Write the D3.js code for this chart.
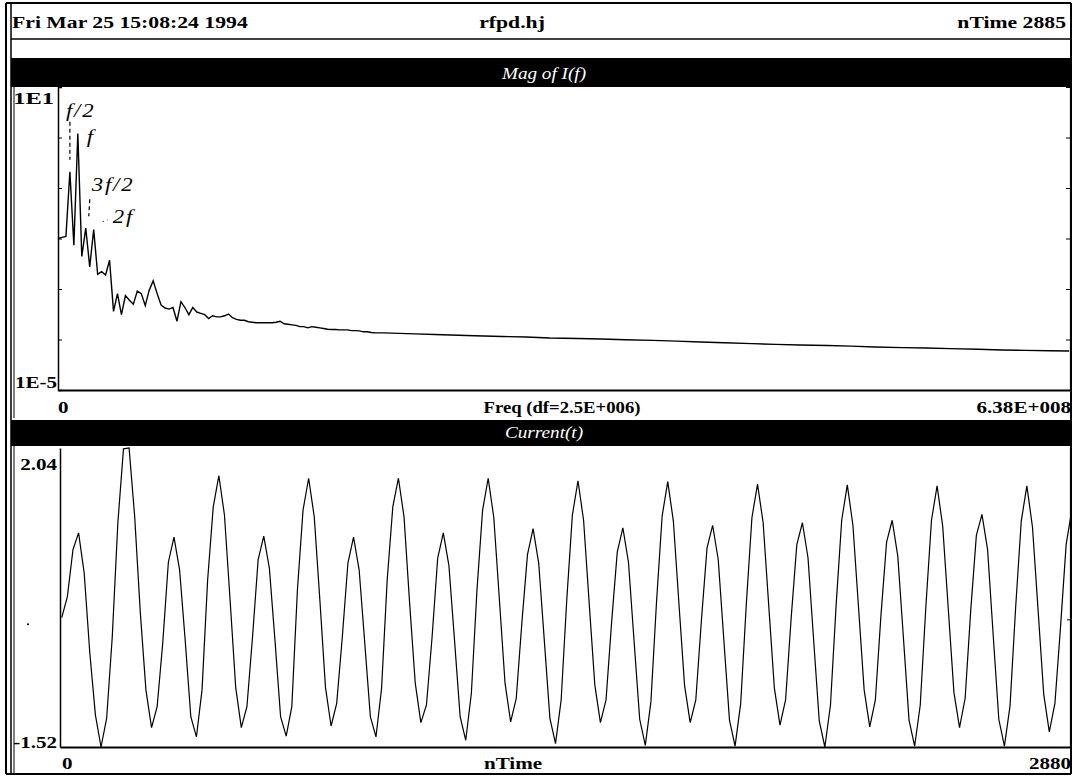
<!DOCTYPE html>
<html>
<head>
<meta charset="utf-8">
<script src="https://cdn.jsdelivr.net/npm/d3@7"></script>
<style>
  html, body { margin: 0; padding: 0; background: #fff; }
  svg { display: block; }
  text { font-family: "Liberation Serif", "Times New Roman", serif; }
</style>
</head>
<body>
<svg id="chart" width="1073" height="780"></svg>
<script>
// ---- header strings ----
const headerLeft = "Fri Mar 25 15:08:24 1994";
const headerMid = "rfpd.hj";
const headerRight = "nTime 2885";

// ---- spectrum |I(f)| ----
const specTitle = "Mag of I(f)";
const specXLabel = "Freq (df=2.5E+006)";
const specXTickLabels = ["0", "6.38E+008"];
const specYTickLabels = ["1E1", "1E-5"];
const df = 2.5e6;
const freqMax = 6.38e8;
const magDomain = [1e-5, 1e1];
const magTicks = [1e1, 1e0, 1e-1, 1e-2, 1e-3, 1e-4, 1e-5];
const specBins = d3.range(0, 83).concat([86, 90, 95, 99, 105, 112, 118, 124, 131, 137, 143, 150, 156, 162,
  168, 175, 181, 187, 194, 200, 206, 213, 219, 225, 232, 238, 244, 250, 255]);
const specMag = [
  1.0e-2, 1.05e-2, 1.1e-2, 2.1e-1, 7.4e-3, 1.2, 4.4e-3, 1.6e-2, 2.75e-3, 1.5e-2,
  1.95e-3, 2.2e-3, 1.9e-3, 3.7e-3, 3.6e-4, 8.1e-4, 3.1e-4, 7.4e-4, 6.0e-4, 5.0e-4,
  9.1e-4, 8.1e-4, 4.7e-4, 9.5e-4, 1.45e-3, 8.1e-4, 4.8e-4, 4.2e-4, 4.0e-4, 4.3e-4,
  2.3e-4, 5.6e-4, 4.3e-4, 3.1e-4, 4.3e-4, 3.5e-4, 3.3e-4, 3.1e-4, 2.6e-4, 2.95e-4,
  2.8e-4, 2.8e-4, 2.95e-4, 3.2e-4, 2.7e-4, 2.5e-4, 2.4e-4, 2.4e-4, 2.25e-4, 2.2e-4,
  2.15e-4, 2.15e-4, 2.15e-4, 2.15e-4, 2.15e-4, 2.2e-4, 2.3e-4, 2.05e-4, 2.0e-4, 1.95e-4,
  1.9e-4, 1.8e-4, 1.8e-4, 1.7e-4, 1.8e-4, 1.75e-4, 1.7e-4, 1.65e-4, 1.6e-4, 1.58e-4,
  1.58e-4, 1.55e-4, 1.55e-4, 1.55e-4, 1.5e-4, 1.5e-4, 1.48e-4, 1.42e-4, 1.42e-4, 1.38e-4,
  1.35e-4, 1.35e-4, 1.35e-4,
  1.32e-4, 1.29e-4, 1.26e-4, 1.23e-4, 1.19e-4, 1.15e-4, 1.12e-4, 1.07e-4, 1.05e-4, 1.02e-4,
  9.9e-5, 9.6e-5, 9.3e-5, 8.9e-5, 8.6e-5, 8.3e-5, 8.0e-5, 7.8e-5, 7.6e-5, 7.4e-5,
  7.1e-5, 6.9e-5, 6.8e-5, 6.6e-5, 6.4e-5, 6.2e-5, 6.1e-5, 6.0e-5, 5.9e-5
];
// harmonic annotations (name, bin of the marked peak)
const harmonicNames = ["f/2", "f", "3f/2", "2f"];
const harmonicBins = [3, 5, 7, 9];

// ---- current waveform ----
const curTitle = "Current(t)";
const curXLabel = "nTime";
const curXTickLabels = ["0", "2880"];
const curYTickLabels = ["2.04", "-1.52"];
const t0 = 5;      // first stored time step
const dt = 16;     // output interval
const tMax = 2880;
const curDomain = [-1.52, 2.04];
const current = [
  0.02, 0.27, 0.83, 1.03, 0.55, -0.40, -1.14, -1.52, -1.18, -0.21,
  1.15, 2.03, 2.04, 1.22, 0.08, -0.84, -1.29, -1.04, -0.28, 0.68,
  0.98, 0.59, -0.25, -1.16, -1.40, -0.84, 0.47, 1.34, 1.71, 1.24,
  0.23, -0.81, -1.29, -1.04, -0.21, 0.71, 0.99, 0.61, -0.25, -1.16,
  -1.39, -1.04, 0.35, 1.30, 1.68, 1.22, 0.23, -0.81, -1.27, -1.00,
  -0.21, 0.67, 0.98, 0.59, -0.28, -1.16, -1.40, -0.82, 0.47, 1.34,
  1.68, 1.22, 0.19, -0.76, -1.23, -1.02, -0.21, 0.73, 1.03, 0.64,
  -0.25, -1.16, -1.44, -0.88, 0.35, 1.30, 1.68, 1.21, 0.23, -0.76,
  -1.22, -0.94, -0.04, 0.77, 1.08, 0.67, -0.25, -1.18, -1.48, -0.96,
  0.23, 1.24, 1.65, 1.18, 0.19, -0.78, -1.23, -0.96, -0.03, 0.80,
  1.09, 0.68, -0.26, -1.19, -1.50, -0.98, 0.21, 1.23, 1.64, 1.17,
  0.18, -0.79, -1.23, -0.96, -0.01, 0.85, 1.12, 0.71, -0.25, -1.20,
  -1.51, -1.00, 0.18, 1.21, 1.61, 1.15, 0.16, -0.82, -1.26, -0.96,
  0.02, 0.89, 1.15, 0.73, -0.25, -1.21, -1.52, -1.02, 0.16, 1.18,
  1.60, 1.12, 0.14, -0.84, -1.28, -0.96, 0.05, 0.92, 1.18, 0.75,
  -0.22, -1.20, -1.51, -1.02, 0.15, 1.18, 1.59, 1.11, 0.12, -0.87,
  -1.29, -0.94, 0.11, 1.00, 1.25, 0.83, -0.19, -1.19, -1.51, -1.03,
  0.14, 1.17, 1.59, 1.10, 0.11, -0.89, -1.34, -1.00, -0.09, 0.89,
  1.30
];

// ---------------------------------------------------------------
const svg = d3.select("#chart");
const W = 1073, H = 780;
svg.append("rect").attr("width", W).attr("height", H).attr("fill", "#fff");

const TEXT_SX = 1.24; // wide, stretched lettering of the plotter output

function label(g, str, x, y, anchor, o = {}) {
  const t = g.append("text")
    .attr("transform", `translate(${x},${y}) scale(${o.sx || TEXT_SX},1)`)
    .attr("text-anchor", anchor)
    .attr("font-size", o.size || 17)
    .attr("font-weight", o.weight || "bold")
    .attr("font-style", o.style || "normal")
    .attr("fill", o.fill || "#000")
    .text(str);
  if (o.ls) t.attr("letter-spacing", o.ls);
  return t;
}

function hline(x1, x2, y, w) {
  svg.append("line").attr("x1", x1).attr("x2", x2).attr("y1", y).attr("y2", y)
    .attr("stroke", "#000").attr("stroke-width", w);
}
function vline(x, y1, y2, w) {
  svg.append("line").attr("x1", x).attr("x2", x).attr("y1", y1).attr("y2", y2)
    .attr("stroke", "#000").attr("stroke-width", w);
}

// ---- page frame ----
const FL = 6, FR = 1071, FT = 3, FB = 774;
hline(FL, FR, FT, 2);
hline(FL, FR, FB, 2);
vline(FL, FT, FB, 2);
vline(11, FT, FB, 1.5);
vline(FR, FT, FB, 2);
hline(11, FR, 39, 1.5);

// header
label(svg, headerLeft, 12, 28, "start", { size: 17.5 });
label(svg, headerMid, 512, 28, "middle", { size: 17.5 });
label(svg, headerRight, 1066, 28, "end", { size: 17.5 });

// ---- panel layout ----
const pTop = { bar: [58, 87], x0: 58, x1: 1070, y0: 87, y1: 390, lab: 413 };
const pBot = { bar: [420, 446], x0: 60, x1: 1070, y0: 446, y1: 747, lab: 769 };

function panelChrome(p, title) {
  svg.append("rect").attr("x", 11).attr("y", p.bar[0])
    .attr("width", FR - 11).attr("height", p.bar[1] - p.bar[0]).attr("fill", "#000");
  label(svg, title, 544, p.bar[1] - 8, "middle",
    { size: 16, weight: "normal", style: "italic", fill: "#fff", sx: 1.2 });
  vline(14, p.bar[1], p.y1 + 28, 1);
}
panelChrome(pTop, specTitle);
panelChrome(pBot, curTitle);

// ---- spectrum panel ----
const xF = d3.scaleLinear().domain([0, freqMax]).range([pTop.x0, pTop.x1]);
const yM = d3.scaleLog().domain(magDomain).range([pTop.y1, pTop.y0]);

const gTop = svg.append("g");
gTop.append("g").attr("transform", `translate(${pTop.x0},0)`)
  .call(d3.axisLeft(yM).tickValues(magTicks).tickSize(-4).tickFormat(""))
  .call(g => g.select(".domain").attr("stroke-width", 1.5));
gTop.append("g").attr("transform", `translate(${pTop.x1},0)`)
  .call(d3.axisRight(yM).tickValues(magTicks).tickSize(-4).tickFormat(""))
  .call(g => g.select(".domain").attr("stroke-width", 1.2));
gTop.append("g").attr("transform", `translate(0,${pTop.y1})`)
  .call(d3.axisBottom(xF).tickValues([]).tickSizeOuter(0))
  .call(g => g.select(".domain").attr("stroke-width", 2));

const specPts = specBins.map((b, i) => [b * df, specMag[i]]);
gTop.append("path").datum(specPts)
  .attr("fill", "none").attr("stroke", "#000").attr("stroke-width", 1.4)
  .attr("stroke-linejoin", "miter")
  .attr("d", d3.line().x(d => xF(d[0])).y(d => yM(d[1])));

label(gTop, specYTickLabels[0], pTop.x0 - 4, yM(magDomain[1]) + 17, "end", { sx: 1.4, size: 17.5 });
label(gTop, specYTickLabels[1], pTop.x0 - 1, yM(magDomain[0]) - 2, "end");
label(gTop, specXTickLabels[0], xF(0), pTop.lab, "start");
label(gTop, specXTickLabels[1], xF(freqMax) + 1, pTop.lab, "end");
label(gTop, specXLabel, 562, pTop.lab, "middle", { sx: 1.1 });

// harmonic markers: label offsets and dashed leaders relative to each peak
const annLayout = {
  "f/2":  { dx: -4, dy: -55, lead: [0, -50, 0, -12], dash: "4,3" },
  "f":    { dx: 9,  dy: 9,   lead: null },
  "3f/2": { dx: 6,  dy: -37, lead: [4, -29, 3, -12], dash: "4,3" },
  "2f":   { dx: 19, dy: -7,  lead: [9, -8, 14, -10], dash: "1,4" }
};
harmonicNames.forEach((name, i) => {
  const b = harmonicBins[i];
  const px = xF(b * df), py = yM(specMag[specBins.indexOf(b)]);
  const L = annLayout[name];
  if (L.lead) {
    gTop.append("line")
      .attr("x1", px + L.lead[0]).attr("y1", py + L.lead[1])
      .attr("x2", px + L.lead[2]).attr("y2", py + L.lead[3])
      .attr("stroke", "#000").attr("stroke-width", 1.2)
      .attr("stroke-dasharray", L.dash);
  }
  label(gTop, name, px + L.dx, py + L.dy, "start",
    { size: 19, weight: "normal", style: "italic", sx: 1.2, ls: 1.5 });
});

// ---- current panel ----
const xT = d3.scaleLinear().domain([0, tMax]).range([pBot.x0, pBot.x1]);
const yC = d3.scaleLinear().domain(curDomain).range([pBot.y1, pBot.y0 + 2]);

svg.append("clipPath").attr("id", "curClip")
  .append("rect").attr("x", pBot.x0).attr("y", pBot.y0)
  .attr("width", pBot.x1 - pBot.x0).attr("height", pBot.y1 - pBot.y0 + 2);

const gBot = svg.append("g");
gBot.append("g").attr("transform", `translate(${pBot.x0},0)`)
  .call(d3.axisLeft(yC).tickValues([]).tickSizeOuter(0))
  .call(g => g.select(".domain").attr("stroke-width", 1.5));
gBot.append("g").attr("transform", `translate(${pBot.x1},0)`)
  .call(d3.axisRight(yC).tickValues([0]).tickSize(-3).tickSizeOuter(0).tickFormat(""))
  .call(g => g.select(".domain").attr("stroke-width", 1.2));
gBot.append("g").attr("transform", `translate(0,${pBot.y1})`)
  .call(d3.axisBottom(xT).tickValues([]).tickSizeOuter(0))
  .call(g => g.select(".domain").attr("stroke-width", 2));
gBot.append("circle").attr("cx", 28).attr("cy", yC(0) + 5).attr("r", 1).attr("fill", "#000");

gBot.append("path").datum(current)
  .attr("clip-path", "url(#curClip)")
  .attr("fill", "none").attr("stroke", "#000").attr("stroke-width", 1.2)
  .attr("d", d3.line().x((d, i) => xT(t0 + i * dt)).y(d => yC(d)));

label(gBot, curYTickLabels[0], pBot.x0 - 3, yC(curDomain[1]) + 22, "end");
label(gBot, curYTickLabels[1], pBot.x0 - 3, yC(curDomain[0]) + 1, "end");
label(gBot, curXTickLabels[0], xT(0) + 2, pBot.lab, "start");
label(gBot, curXTickLabels[1], xT(tMax) + 1, pBot.lab, "end");
label(gBot, curXLabel, 513, pBot.lab, "middle");
</script>
</body>
</html>
